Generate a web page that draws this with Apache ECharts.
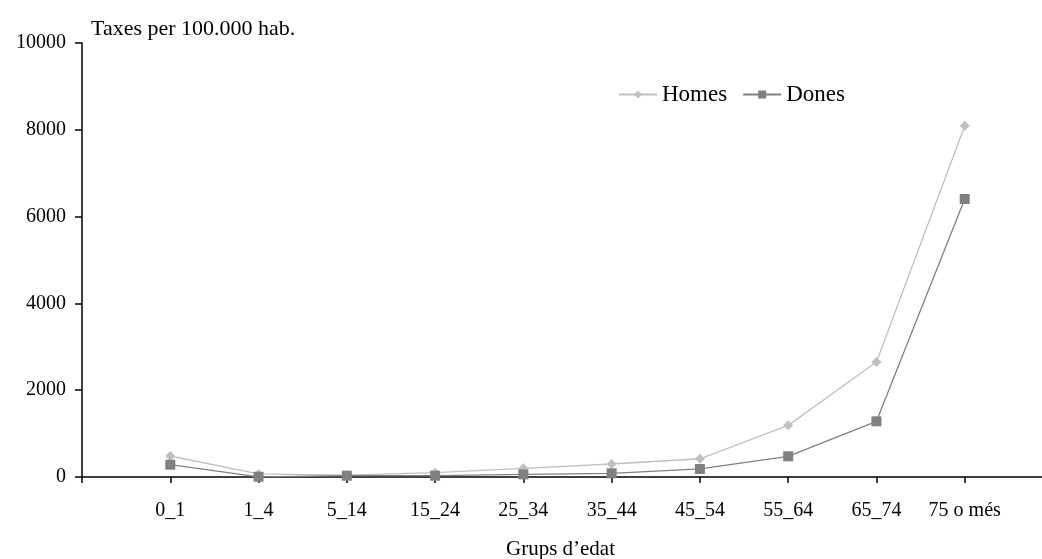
<!DOCTYPE html>
<html><head><meta charset="utf-8">
<script src="https://cdn.jsdelivr.net/npm/echarts@6/dist/echarts.min.js"></script>
<style>html,body{margin:0;padding:0;background:#fff}#c{width:1042px;height:559px}</style>
</head><body><div id="c"></div>
<script>
const categories = ["", "0_1", "1_4", "5_14", "15_24", "25_34", "35_44", "45_54", "55_64", "65_74", "75 o més", ""];
const homes = [null, 484, 70, 45, 100, 200, 300, 420, 1190, 2650, 8095, null];
const dones = [null, 284, 5, 30, 30, 60, 85, 185, 477, 1283, 6405, null];
const yTicks = [0, 2000, 4000, 6000, 8000, 10000];

const font = "Liberation Serif";
const chart = echarts.init(document.getElementById('c'));
chart.setOption({
  animation: false,
  backgroundColor: '#fff',
  textStyle: { fontFamily: font },
  title: { text: 'Taxes per 100.000 hab.', left: 86, top: 13,
    textStyle: { fontFamily: font, fontSize: 22, fontWeight: 'normal', color: '#000' } },
  legend: {
    top: 78, left: 613, itemWidth: 38, itemHeight: 10, itemGap: 15,
    textStyle: { fontFamily: font, fontSize: 23, color: '#000' },
    data: ['Homes', 'Dones']
  },
  grid: { left: 82, right: -11, top: 43, bottom: 82, containLabel: false, outerBoundsMode: 'none' },
  xAxis: {
    type: 'category', data: categories, boundaryGap: false,
    name: 'Grups d’edat', nameLocation: 'middle', nameGap: 62,
    nameTextStyle: { fontFamily: font, fontSize: 21, color: '#000', padding: [0, 14, 0, 0] },
    axisLine: { lineStyle: { color: '#000', width: 1.5 } },
    axisTick: { show: true, interval: 0, length: 6, lineStyle: { color: '#000', width: 1.5 } },
    axisLabel: { interval: 0, margin: 24, fontFamily: font, fontSize: 20, color: '#000' },
    splitLine: { show: false }
  },
  yAxis: {
    type: 'value', min: 0, max: 10000, interval: 2000,
    axisLine: { show: true, lineStyle: { color: '#000', width: 1.5 } },
    axisTick: { show: true, length: 7, lineStyle: { color: '#000', width: 1.5 } },
    axisLabel: { margin: 16, fontFamily: font, fontSize: 20, color: '#000',
      formatter: v => yTicks.includes(v) ? String(v) : '' },
    splitLine: { show: false }
  },
  series: [
    { name: 'Homes', type: 'line', data: homes, symbol: 'diamond', symbolSize: 10,
      color: '#c0c0c0', lineStyle: { color: '#c0c0c0', width: 1.3 },
      itemStyle: { color: '#c0c0c0' } },
    { name: 'Dones', type: 'line', data: dones, symbol: 'rect', symbolSize: 10,
      color: '#808080', lineStyle: { color: '#808080', width: 1.3 },
      itemStyle: { color: '#808080' } }
  ]
});
</script></body></html>
